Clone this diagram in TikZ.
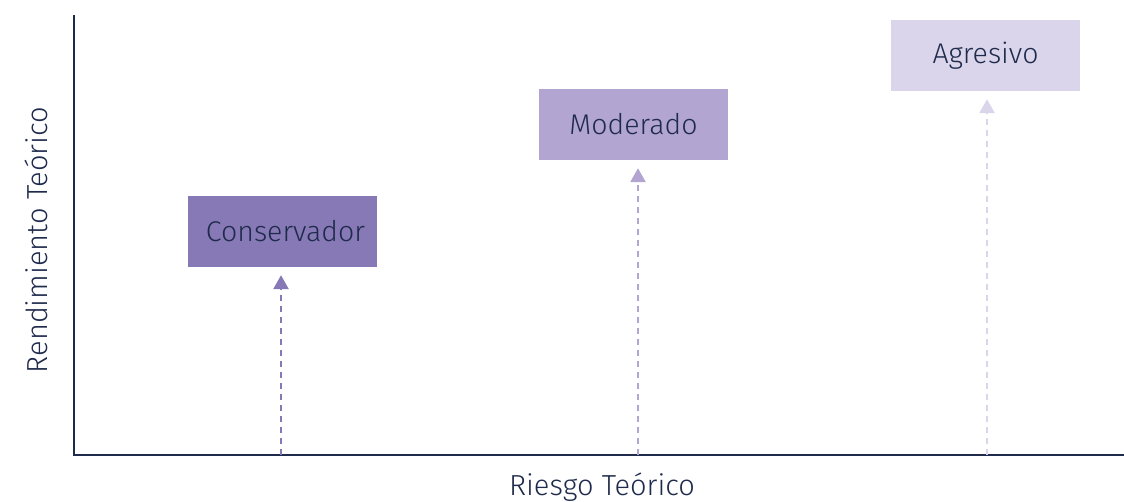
\documentclass[tikz,border=0pt]{standalone}
\usepackage{fontspec}
\setmainfont{Fira Sans}[UprightFont=* Light]
\usetikzlibrary{arrows.meta}
\definecolor{navy}{HTML}{1F2B4D}
\definecolor{cons}{HTML}{8779B5}
\definecolor{mode}{HTML}{B2A5D2}
\definecolor{agre}{HTML}{DAD5EA}
\begin{document}
\begin{tikzpicture}[x=1pt,y=-1pt,
  box/.style={minimum width=189pt,minimum height=71pt,inner sep=0pt,text=navy,font=\fontsize{28.5}{32}\selectfont},
  riser/.style={line width=2.6pt,dash pattern=on 6pt off 5pt,shorten >=8pt,-{Triangle[width=15pt,length=14pt]}},
  lab/.style={text=navy,font=\fontsize{29}{32}\selectfont,inner sep=0pt}]
\useasboundingbox (0,0) rectangle (1124,502);
\coordinate (o) at (74,455);
\coordinate (ytop) at (74,15);
\coordinate (xend) at (1124,455);
\draw[navy,line width=2.8pt] (ytop) -- (o) -- (xend);
\node[box,fill=cons] (c) at (282.5,231.5) {\hspace*{6pt}Conservador};
\node[box,fill=mode] (m) at (633.5,124.5) {Moderado};
\node[box,fill=agre] (a) at (985.5,55.5) {Agresivo};
\coordinate (cb) at (281,455);
\coordinate (mb) at (638,455);
\coordinate (ab) at (987,455);
\draw[riser,cons] (cb) -- (cb |- c.south);
\draw[riser,mode] (mb) -- (mb |- m.south);
\draw[riser,agre] (ab) -- (ab |- a.south);
\node[lab,anchor=base] (xl) at (602,495) {Riesgo Teórico};
\node[lab,rotate=90] (yl) at (36,240) {Rendimiento Teórico};
\end{tikzpicture}
\end{document}
